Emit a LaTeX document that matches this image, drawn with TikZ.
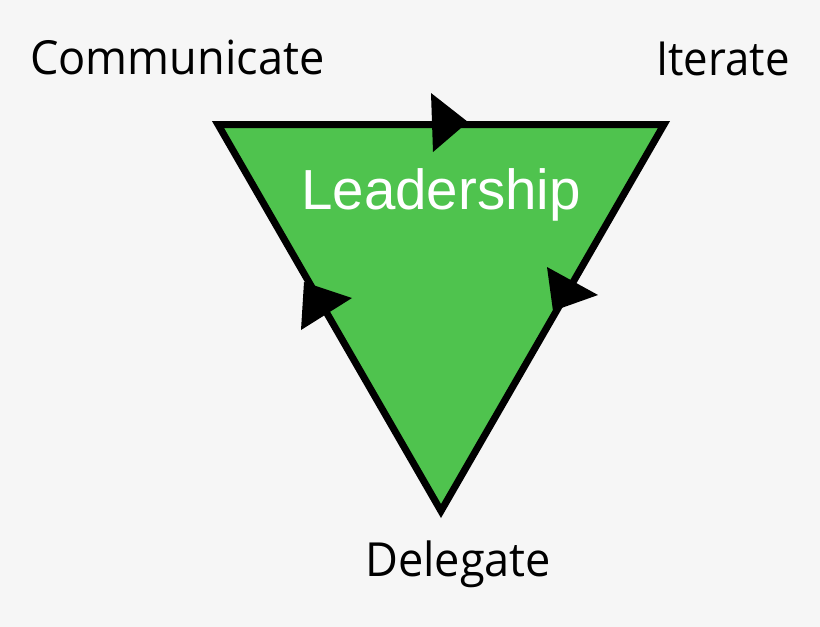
\documentclass[tikz,border=0pt]{standalone}
\usepackage{graphicx}
\usepackage{fontspec}
\setmainfont{Open Sans}
\newfontfamily\leadfont{Liberation Sans}
\definecolor{bgc}{RGB}{246,246,246}
\definecolor{leafgreen}{RGB}{79,195,78}
\newcommand{\narrowtext}[1]{\scalebox{0.96}[1]{#1}}
\begin{document}
\begin{tikzpicture}[x=1pt,y=-1pt,
  edgebox/.style={draw=black,line width=7pt,fill=leafgreen,line join=miter},
  headtip/.style={fill=black},
  label/.style={inner sep=0pt,anchor=base west,font=\fontsize{47}{50}\selectfont,text=black}]
\fill[bgc] (0,0) rectangle (820,627);
\useasboundingbox (0,0) rectangle (820,627);
\coordinate (tl) at (218,124.5);
\coordinate (tr) at (664,124.5);
\coordinate (bt) at (441,511);
\draw[edgebox] (tl) -- (tr) -- (bt) -- cycle;
% arrowheads
\fill[headtip] (431,93) -- (468,122) -- (433,152) -- cycle;
\fill[headtip] (547,267) -- (598,295) -- (553,311) -- cycle;
\fill[headtip] (304,282) -- (352,298) -- (301,330) -- cycle;
\node[inner sep=0pt,anchor=base,text=white,font=\leadfont\fontsize{56.5}{60}\selectfont] (lead) at (441,209) {Leadership};
\node[label] (comm) at (30,74) {\narrowtext{Communicate}};
\node[label] (iter) at (656,75) {\scalebox{0.93}[1]{Iterate}};
\node[label] (dele) at (365,576) {\narrowtext{Delegate}};
\end{tikzpicture}
\end{document}
